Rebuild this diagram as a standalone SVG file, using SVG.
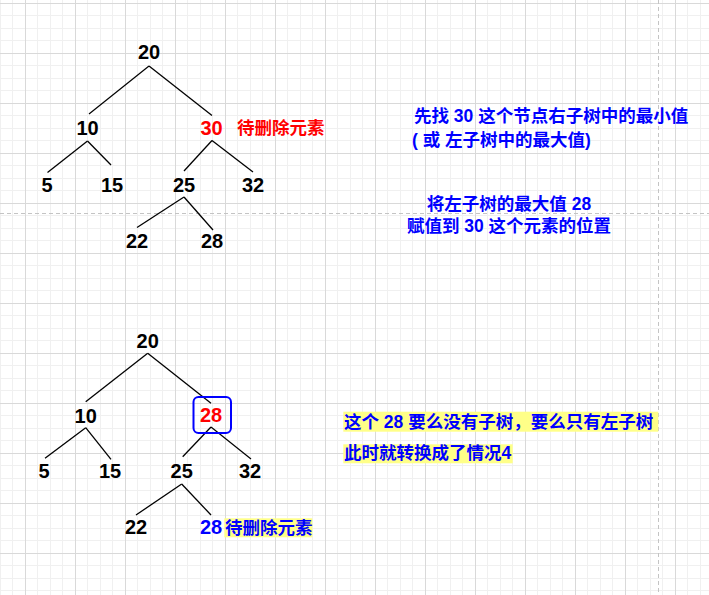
<svg xmlns="http://www.w3.org/2000/svg" width="709" height="595" viewBox="0 0 709 595">
<style>
  .t { font-family: "Liberation Sans", "Noto Sans CJK SC", sans-serif; font-weight: bold; }
  .num { font-size: 20px; text-anchor: middle; fill: #000; }
  .lbl { font-size: 17.5px; }
  .red { fill: #ff0000; }
  .blue { fill: #0000ff; }
  .edge { stroke: #000; stroke-width: 1.3; fill: none; }
  .hl { fill: #ffff88; }
  .page { stroke: #c4c4c4; stroke-width: 1; stroke-dasharray: 4 3; fill: none; }
</style>
<defs>
  <pattern id="grid" x="25" y="3" width="50" height="50" patternUnits="userSpaceOnUse">
    <rect x="12" y="0" width="1" height="50" fill="#f0f0f0"/>
    <rect x="25" y="0" width="1" height="50" fill="#f0f0f0"/>
    <rect x="37" y="0" width="1" height="50" fill="#f0f0f0"/>
    <rect x="0" y="12" width="50" height="1" fill="#f0f0f0"/>
    <rect x="0" y="25" width="50" height="1" fill="#f0f0f0"/>
    <rect x="0" y="37" width="50" height="1" fill="#f0f0f0"/>
    <rect x="0" y="0" width="1" height="50" fill="#d9d9d9"/>
    <rect x="0" y="0" width="50" height="1" fill="#d9d9d9"/>
  </pattern>
</defs>
<rect width="709" height="595" fill="#ffffff"/>
<rect width="709" height="595" fill="url(#grid)"/>
<line class="page" x1="0" y1="213.5" x2="709" y2="213.5"/>
<line class="page" x1="658.5" y1="0" x2="658.5" y2="595"/>

<g id="connectors">
  <!-- top tree -->
  <line class="edge" x1="149" y1="66" x2="89" y2="114"/>
  <line class="edge" x1="149" y1="66" x2="212" y2="115.5"/>
  <line class="edge" x1="87.5" y1="141" x2="47.5" y2="172.5"/>
  <line class="edge" x1="87.5" y1="141" x2="111" y2="165"/>
  <line class="edge" x1="212" y1="140.5" x2="184" y2="171"/>
  <line class="edge" x1="212" y1="140.5" x2="253" y2="172"/>
  <line class="edge" x1="184" y1="197" x2="137" y2="227.5"/>
  <line class="edge" x1="184" y1="197" x2="213" y2="230"/>
  <!-- bottom tree -->
  <line class="edge" x1="147.7" y1="353.3" x2="85.7" y2="401.7"/>
  <line class="edge" x1="147.7" y1="353.3" x2="211" y2="403.3"/>
  <line class="edge" x1="85.7" y1="427.7" x2="45" y2="458.3"/>
  <line class="edge" x1="85.7" y1="427.7" x2="111" y2="459.3"/>
  <line class="edge" x1="211" y1="427" x2="182.7" y2="456.7"/>
  <line class="edge" x1="211" y1="427" x2="251" y2="459"/>
  <line class="edge" x1="181.7" y1="484" x2="136" y2="515"/>
  <line class="edge" x1="181.7" y1="484" x2="211" y2="515"/>
</g>

<!-- top tree nodes -->
<g id="t20"><text class="t num" x="149" y="59">20</text></g>
<g id="t10"><text class="t num" x="87.5" y="135">10</text></g>
<g id="t30"><text class="t num red" x="211.5" y="135">30</text></g>
<g id="t30label"><text class="t lbl red" x="237" y="134">待删除元素</text></g>
<g id="t5"><text class="t num" x="47" y="192">5</text></g>
<g id="t15"><text class="t num" x="112" y="192">15</text></g>
<g id="t25"><text class="t num" x="184" y="192">25</text></g>
<g id="t32"><text class="t num" x="253" y="192">32</text></g>
<g id="t22"><text class="t num" x="137" y="248">22</text></g>
<g id="t28"><text class="t num" x="212" y="248">28</text></g>

<!-- explanation texts -->
<g id="note1">
  <text class="t lbl blue" x="414" y="122">先找 30 这个节点右子树中的最小值</text>
  <text class="t lbl blue" x="412" y="145.5">( 或 左子树中的最大值)</text>
</g>
<g id="note2">
  <text class="t lbl blue" x="509" y="210" text-anchor="middle">将左子树的最大值 28</text>
  <text class="t lbl blue" x="509" y="231.5" text-anchor="middle">赋值到 30 这个元素的位置</text>
</g>

<!-- bottom tree nodes -->
<g id="b20"><text class="t num" x="147.7" y="348">20</text></g>
<g id="b10"><text class="t num" x="85.7" y="422.5">10</text></g>
<g id="b28box">
  <rect x="193.5" y="397" width="37.5" height="36" rx="5" ry="5" fill="none" stroke="#0000ff" stroke-width="2"/>
  <text class="t num red" x="211" y="422">28</text>
</g>
<g id="b5"><text class="t num" x="44" y="478">5</text></g>
<g id="b15"><text class="t num" x="110" y="478">15</text></g>
<g id="b25"><text class="t num" x="181.7" y="478">25</text></g>
<g id="b32"><text class="t num" x="250" y="478">32</text></g>
<g id="b22"><text class="t num" x="136" y="534">22</text></g>
<g id="b28">
  <text class="t num blue" x="211" y="534">28</text>
  <rect class="hl" x="224.3" y="518.3" width="88" height="19"/>
  <text class="t lbl blue" x="225" y="533.5">待删除元素</text>
</g>

<g id="note3">
  <rect class="hl" x="343.3" y="411.7" width="315" height="20"/>
  <text class="t lbl blue" x="344" y="427.7">这个 28 要么没有子树，要么只有左子树</text>
  <rect class="hl" x="343.3" y="444.3" width="169.4" height="19"/>
  <text class="t lbl blue" x="344" y="459.3">此时就转换成了情况4</text>
</g>
</svg>
